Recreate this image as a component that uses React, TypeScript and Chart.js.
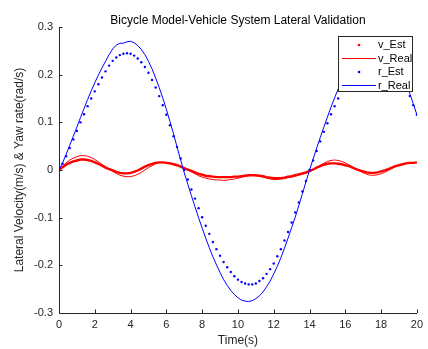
import React, { useEffect, useRef } from "react";
import { Chart, registerables } from "chart.js";

Chart.register(...registerables);

// ---- data ----
const time = [
  0, 0.2, 0.4, 0.6, 0.8, 1.0, 1.2, 1.4, 1.6, 1.8,
  2.0, 2.2, 2.4, 2.6, 2.8, 3.0, 3.2, 3.4, 3.6, 3.8,
  4.0, 4.2, 4.4, 4.6, 4.8, 5.0, 5.2, 5.4, 5.6, 5.8,
  6.0, 6.2, 6.4, 6.6, 6.8, 7.0, 7.2, 7.4, 7.6, 7.8,
  8.0, 8.2, 8.4, 8.6, 8.8, 9.0, 9.2, 9.4, 9.6, 9.8,
  10.0, 10.2, 10.4, 10.6, 10.8, 11.0, 11.2, 11.4, 11.6, 11.8,
  12.0, 12.2, 12.4, 12.6, 12.8, 13.0, 13.2, 13.4, 13.6, 13.8,
  14.0, 14.2, 14.4, 14.6, 14.8, 15.0, 15.2, 15.4, 15.6, 15.8,
  16.0, 16.2, 16.4, 16.6, 16.8, 17.0, 17.2, 17.4, 17.6, 17.8,
  18.0, 18.2, 18.4, 18.6, 18.8, 19.0, 19.2, 19.4, 19.6, 19.8,
  20.0,
];

const vEst = [
  0, 0.006, 0.011, 0.015, 0.018, 0.020, 0.022, 0.022, 0.021, 0.019,
  0.016, 0.013, 0.009, 0.005, 0.002, -0.001, -0.004, -0.006, -0.007, -0.007,
  -0.006, -0.004, -0.001, 0.003, 0.007, 0.010, 0.013, 0.015, 0.016, 0.016,
  0.015, 0.014, 0.012, 0.010, 0.007, 0.004, 0.001, -0.002, -0.005, -0.008,
  -0.010, -0.012, -0.013, -0.014, -0.015, -0.015, -0.015, -0.015, -0.015, -0.014,
  -0.014, -0.013, -0.012, -0.011, -0.011, -0.011, -0.012, -0.013, -0.015, -0.016,
  -0.017, -0.017, -0.017, -0.016, -0.014, -0.013, -0.011, -0.009, -0.007, -0.005,
  -0.002, 0.001, 0.005, 0.008, 0.011, 0.013, 0.014, 0.014, 0.013, 0.012,
  0.010, 0.008, 0.005, 0.002, -0.001, -0.003, -0.005, -0.006, -0.006, -0.005,
  -0.003, -0.001, 0.002, 0.005, 0.008, 0.010, 0.012, 0.014, 0.015, 0.015,
  0.016,
];

const vReal = [
  0, 0.008, 0.015, 0.021, 0.025, 0.028, 0.030, 0.030, 0.029, 0.026,
  0.022, 0.017, 0.012, 0.007, 0.002, -0.003, -0.007, -0.011, -0.013, -0.014,
  -0.014, -0.012, -0.009, -0.005, 0.000, 0.005, 0.009, 0.013, 0.015, 0.016,
  0.016, 0.015, 0.013, 0.011, 0.008, 0.004, 0.000, -0.004, -0.008, -0.012,
  -0.015, -0.017, -0.019, -0.020, -0.021, -0.021, -0.022, -0.021, -0.020, -0.019,
  -0.017, -0.015, -0.013, -0.012, -0.011, -0.012, -0.013, -0.015, -0.017, -0.019,
  -0.020, -0.020, -0.019, -0.018, -0.016, -0.015, -0.013, -0.011, -0.009, -0.007,
  -0.004, 0.000, 0.005, 0.010, 0.014, 0.018, 0.020, 0.021, 0.020, 0.018,
  0.015, 0.011, 0.007, 0.002, -0.002, -0.006, -0.009, -0.011, -0.011, -0.010,
  -0.008, -0.005, -0.001, 0.003, 0.007, 0.010, 0.012, 0.014, 0.015, 0.015,
  0.016,
];

const rEst = [
  0, 0.013, 0.029, 0.046, 0.064, 0.082, 0.100, 0.117, 0.134, 0.150,
  0.165, 0.180, 0.194, 0.207, 0.219, 0.229, 0.236, 0.241, 0.244, 0.245,
  0.244, 0.240, 0.234, 0.226, 0.216, 0.204, 0.189, 0.173, 0.155, 0.136,
  0.116, 0.094, 0.071, 0.048, 0.024, 0.000, -0.020, -0.041, -0.060, -0.080,
  -0.099, -0.117, -0.134, -0.151, -0.166, -0.180, -0.193, -0.204, -0.214, -0.223,
  -0.230, -0.235, -0.238, -0.240, -0.240, -0.238, -0.233, -0.227, -0.218, -0.208,
  -0.196, -0.181, -0.166, -0.148, -0.130, -0.110, -0.089, -0.068, -0.045, -0.023,
  0.000, 0.020, 0.040, 0.060, 0.080, 0.098, 0.117, 0.134, 0.150, 0.166,
  0.180, 0.193, 0.205, 0.216, 0.224, 0.232, 0.238, 0.242, 0.244, 0.245,
  0.244, 0.240, 0.234, 0.226, 0.216, 0.204, 0.189, 0.173, 0.155, 0.136,
  0.116,
];

const rReal = [
  0, 0.015, 0.033, 0.052, 0.071, 0.090, 0.110, 0.129, 0.148, 0.166,
  0.183, 0.199, 0.214, 0.228, 0.242, 0.254, 0.262, 0.266, 0.266, 0.269,
  0.270, 0.267, 0.261, 0.253, 0.242, 0.228, 0.212, 0.193, 0.173, 0.151,
  0.127, 0.102, 0.076, 0.048, 0.021, -0.006, -0.030, -0.054, -0.077, -0.100,
  -0.122, -0.143, -0.163, -0.182, -0.199, -0.215, -0.230, -0.242, -0.253, -0.261,
  -0.268, -0.273, -0.275, -0.276, -0.274, -0.270, -0.264, -0.256, -0.245, -0.233,
  -0.218, -0.202, -0.184, -0.164, -0.143, -0.121, -0.099, -0.075, -0.050, -0.025,
  0.000, 0.023, 0.046, 0.068, 0.090, 0.111, 0.132, 0.151, 0.170, 0.187,
  0.203, 0.217, 0.230, 0.241, 0.251, 0.258, 0.264, 0.268, 0.270, 0.270,
  0.267, 0.262, 0.254, 0.244, 0.232, 0.217, 0.200, 0.181, 0.161, 0.139,
  0.116,
];

const xTicks = [0, 2, 4, 6, 8, 10, 12, 14, 16, 18, 20];
const xTickLabels = ["0", "2", "4", "6", "8", "10", "12", "14", "16", "18", "20"];
const yTicks = [-0.3, -0.2, -0.1, 0, 0.1, 0.2, 0.3];
const yTickLabels = ["-0.3", "-0.2", "-0.1", "0", "0.1", "0.2", "0.3"];
const seriesLabels = ["v_Est", "v_Real", "r_Est", "r_Real"];
const titleText = "Bicycle Model-Vehicle System Lateral Validation";
const xTitle = "Time(s)";
const yTitle = "Lateral Velocity(m/s) & Yaw rate(rad/s)";

// ---- styles ----
const FONT = "'Liberation Sans', Arial, Helvetica, sans-serif";
const AXIS = "#262626";
const RED = "#ff0000";
const BLUE = "#0000ff";

const toXY = (ys: number[]) => time.map((t, i) => ({ x: t, y: ys[i] }));

const decorPlugin = {
  id: "decor",
  afterDraw(chart: any) {
    const { ctx, chartArea: a, scales } = chart;
    ctx.save();
    // inward ticks
    ctx.strokeStyle = AXIS;
    ctx.lineWidth = 1;
    ctx.beginPath();
    xTicks.forEach((v) => {
      const px = Math.round(scales.x.getPixelForValue(v)) + 0.5;
      ctx.moveTo(px, a.bottom);
      ctx.lineTo(px, a.bottom - 3.5);
    });
    yTicks.forEach((v) => {
      const py = Math.round(scales.y.getPixelForValue(v)) + 0.5;
      ctx.moveTo(a.left, py);
      ctx.lineTo(a.left + 3.5, py);
    });
    ctx.stroke();

    // title
    ctx.fillStyle = "#000";
    ctx.font = `12px ${FONT}`;
    ctx.textAlign = "center";
    ctx.textBaseline = "alphabetic";
    ctx.fillText(titleText, (a.left + a.right) / 2, 24);

    // x title
    ctx.fillStyle = AXIS;
    ctx.textBaseline = "middle";
    ctx.fillText(xTitle, (a.left + a.right) / 2, 341);

    // y title
    ctx.save();
    ctx.translate(20, (a.top + a.bottom) / 2);
    ctx.rotate(-Math.PI / 2);
    ctx.fillText(yTitle, 0, 0);
    ctx.restore();

    // legend
    const bx = 338, by = 36, bw = 75, bh = 56;
    ctx.fillStyle = "#fff";
    ctx.fillRect(bx, by, bw, bh);
    ctx.strokeStyle = AXIS;
    ctx.lineWidth = 1;
    ctx.strokeRect(bx + 0.5, by + 0.5, bw - 1, bh - 1);
    const rows = [45, 58.5, 72, 85.5];
    const ds = chart.data.datasets;
    ctx.font = `11px ${FONT}`;
    ctx.textAlign = "left";
    ctx.textBaseline = "middle";
    ds.forEach((d: any, i: number) => {
      const y = rows[i];
      const col = d.borderColor;
      if (d.legendKind === "dot") {
        ctx.fillStyle = col;
        ctx.beginPath();
        ctx.arc(359, y, 1.3, 0, Math.PI * 2);
        ctx.fill();
      } else {
        ctx.strokeStyle = col;
        ctx.lineWidth = 1;
        ctx.beginPath();
        ctx.moveTo(342, y);
        ctx.lineTo(376, y);
        ctx.stroke();
      }
      ctx.fillStyle = "#000";
      ctx.fillText(d.label, 378, y);
    });
    ctx.restore();
  },
};

export default function App() {
  const ref = useRef<HTMLCanvasElement>(null);
  useEffect(() => {
    document.body.style.margin = "0";
    Chart.defaults.font.family = FONT;
    const chart = new Chart(ref.current as HTMLCanvasElement, {
      type: "line",
      data: {
        datasets: [
          {
            label: seriesLabels[0],
            data: toXY(vEst),
            borderColor: RED,
            backgroundColor: RED,
            borderWidth: 2.4,
            pointRadius: 0,
            showLine: true,
            order: 4,
            legendKind: "dot",
          } as any,
          {
            label: seriesLabels[1],
            data: toXY(vReal),
            borderColor: RED,
            backgroundColor: RED,
            borderWidth: 1,
            pointRadius: 0,
            order: 3,
            legendKind: "line",
          } as any,
          {
            label: seriesLabels[2],
            data: toXY(rEst),
            borderColor: BLUE,
            backgroundColor: BLUE,
            pointBackgroundColor: BLUE,
            pointBorderWidth: 0,
            pointRadius: 1.2,
            showLine: false,
            order: 2,
            legendKind: "dot",
          } as any,
          {
            label: seriesLabels[3],
            data: toXY(rReal),
            borderColor: BLUE,
            backgroundColor: BLUE,
            borderWidth: 1,
            pointRadius: 0,
            order: 1,
            legendKind: "line",
          } as any,
        ],
      },
      options: {
        animation: false,
        responsive: true,
        maintainAspectRatio: false,
        devicePixelRatio: 1,
        layout: { padding: { left: 0, right: 7, top: 27, bottom: 0 } },
        plugins: {
          legend: { display: false },
          title: { display: false },
          tooltip: { enabled: false },
        },
        elements: { line: { tension: 0 } },
        scales: {
          x: {
            type: "linear",
            min: 0,
            max: 20,
            grid: { display: false, drawTicks: false },
            border: { display: true, color: AXIS, width: 1 },
            afterBuildTicks: (s: any) => {
              s.ticks = xTicks.map((v) => ({ value: v }));
            },
            afterFit: (s: any) => {
              s.height = 36;
            },
            ticks: {
              padding: 5,
              color: AXIS,
              font: { size: 11, family: FONT },
              maxRotation: 0,
              autoSkip: false,
              callback: (v: any) => {
                const i = xTicks.findIndex((t) => Math.abs(t - v) < 1e-9);
                return i >= 0 ? xTickLabels[i] : "";
              },
            },
          },
          y: {
            type: "linear",
            min: -0.3,
            max: 0.3,
            grid: { display: false, drawTicks: false },
            border: { display: true, color: AXIS, width: 1 },
            afterBuildTicks: (s: any) => {
              s.ticks = yTicks.map((v) => ({ value: v }));
            },
            afterFit: (s: any) => {
              s.width = 59;
            },
            ticks: {
              padding: 6,
              color: AXIS,
              font: { size: 11, family: FONT },
              autoSkip: false,
              callback: (v: any) => {
                const i = yTicks.findIndex((t) => Math.abs(t - v) < 1e-9);
                return i >= 0 ? yTickLabels[i] : "";
              },
            },
          },
        },
      },
      plugins: [decorPlugin],
    } as any);
    return () => chart.destroy();
  }, []);
  return (
    <div style={{ position: "absolute", left: 0, top: 0, width: 428, height: 349 }}>
      <canvas ref={ref} />
    </div>
  );
}
